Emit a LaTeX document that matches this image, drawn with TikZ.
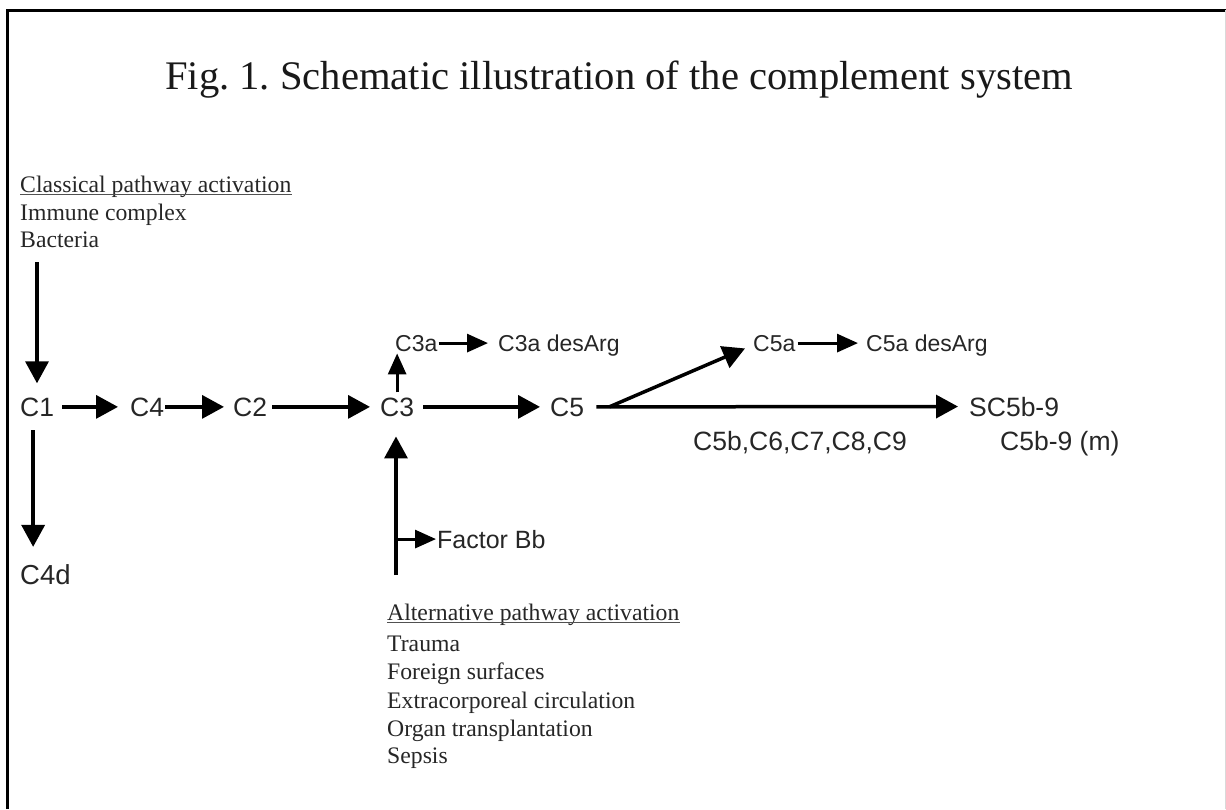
\documentclass[tikz,border=0pt]{standalone}
\usepackage{fontspec}
\setmainfont{Liberation Serif}
\setsansfont{Liberation Sans}
\usetikzlibrary{arrows.meta}
\definecolor{txt}{HTML}{262626}
\frenchspacing
\begin{document}
\begin{tikzpicture}[x=1pt,y=-1pt,
  lab/.style={font=\fontsize{26.5}{30}\sffamily, text=txt, inner sep=0pt, anchor=base west},
  small/.style={font=\fontsize{23}{27}\sffamily, text=txt, inner sep=0pt, anchor=base west},
  ser/.style={font=\fontsize{23.7}{28}\selectfont, text=txt, inner sep=0pt, anchor=base west},
  arr/.style={line width=3.5pt, -{Triangle[length=22pt,width=23pt]}},
  sarr/.style={line width=3pt, -{Triangle[length=21pt,width=18pt]}},
  uline/.style={line width=1.2pt, draw=txt!80},
]
\useasboundingbox (0,0) rectangle (1226,809);
% frame
\draw[line width=3pt] (7,809) -- (7,10) -- (1226,10);
\draw[line width=1pt, black!15] (1225,10) -- (1225,809);

% title
\node[font=\fontsize{40.6}{46}\selectfont, text=black!90, inner sep=0pt, anchor=base] (title) at (619,89)
  {Fig. 1. Schematic illustration of the complement system};

% classical pathway text
\node[ser] (clhead) at (20,192) {Classical pathway activation};
\draw[uline] ([yshift=-2.5pt]clhead.base west) -- ([yshift=-2.5pt]clhead.base east);
\node[ser] (climm) at (20,220) {Immune complex};
\node[ser] (clbac) at (20,247) {Bacteria};

% alternative pathway text
\node[ser] (althead) at (387,620) {Alternative pathway activation};
\draw[uline] ([yshift=-2.5pt]althead.base west) -- ([yshift=-2.5pt]althead.base east);
\node[ser] (alt1) at (387,651) {Trauma};
\node[ser] (alt2) at (387,679) {Foreign surfaces};
\node[ser] (alt3) at (387,708) {Extracorporeal circulation};
\node[ser] (alt4) at (387,736) {Organ transplantation};
\node[ser] (alt5) at (387,763) {Sepsis};

% main labels
\node[lab] (C1) at (20,416) {C1};
\node[lab] (C4) at (130,416) {C4};
\node[lab] (C2) at (233,416) {C2};
\node[lab] (C3) at (380,416) {C3};
\node[lab] (C5) at (550,416) {C5};
\node[lab] (SC) at (969,416) {SC5b-9};
\node[lab] (cl) at (693,450) {C5b,C6,C7,C8,C9};
\node[lab] (mac) at (1000,450) {C5b-9 (m)};
\node[lab, font=\fontsize{27.5}{31}\sffamily] (C4d) at (20,584) {C4d};
\node[lab, font=\fontsize{25}{30}\sffamily] (FB) at (437,548) {Factor Bb};

\node[small] (C3a) at (395,351) {C3a};
\node[small] (C3ad) at (498,351) {C3a desArg};
\node[small] (C5a) at (753,351) {C5a};
\node[small] (C5ad) at (866,351) {C5a desArg};

% connectors
\coordinate (cltop) at (37,262);
\draw[arr, shorten >=14pt] (cltop) -- (cltop |- C1.north);
\draw[arr] ([xshift=-4pt,yshift=-14pt]C1.south) -- ([xshift=-4pt,yshift=17pt]C1.south |- C4d.north);

\draw[arr] ([xshift=8pt]C1.east) -- ([xshift=-12pt]C4.west);
\draw[arr] ([xshift=1pt]C4.east) -- ([xshift=-9pt]C2.west);
\draw[arr] ([xshift=5pt]C2.east) -- ([xshift=-10pt]C3.west);
\draw[arr] ([xshift=9pt]C3.east) -- ([xshift=-10pt]C5.west);
\draw[arr] ([xshift=12pt]C5.east) -- ([xshift=-11pt]SC.west);
\coordinate (split) at ([xshift=25pt]C5.east);
\draw[arr] (split) -- ([xshift=-8pt,yshift=3pt]C5a.south west);

\draw[sarr] ([yshift=5pt]C3.north) -- ([yshift=-2pt]C3.north |- C3a.south);
\draw[sarr] ([xshift=1pt]C3a.east) -- ([xshift=-10pt]C3a.east -| C3ad.west);
\draw[sarr] ([xshift=2pt]C5a.east) -- ([xshift=-8pt]C5a.east -| C5ad.west);

\coordinate (altbot) at (396,575);
\draw[arr, shorten >=20pt] (altbot) -- (altbot |- C3.south);
\draw[sarr] (altbot |- FB.west) -- ([xshift=-1pt]FB.west);
\end{tikzpicture}
\end{document}
